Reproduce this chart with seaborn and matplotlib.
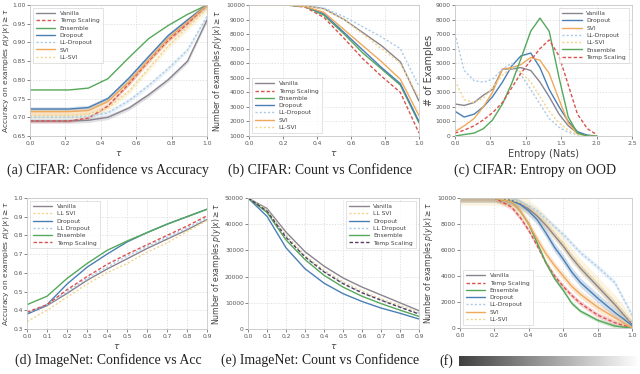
import numpy as np
import matplotlib
matplotlib.use("Agg")
import matplotlib.pyplot as plt
import seaborn as sns
import pandas as pd

# ---------------- data ----------------
# (a) CIFAR accuracy vs confidence threshold
tau_cifar = [0.0, 0.11, 0.22, 0.33, 0.44, 0.56, 0.67, 0.78, 0.89, 1.0]
acc_cifar = {
    "Vanilla":      [0.690, 0.690, 0.690, 0.692, 0.700, 0.725, 0.760, 0.800, 0.850, 0.960],
    "Temp Scaling": [0.690, 0.690, 0.690, 0.698, 0.730, 0.790, 0.850, 0.905, 0.950, 1.000],
    "Ensemble":     [0.773, 0.773, 0.773, 0.778, 0.803, 0.860, 0.910, 0.945, 0.975, 1.000],
    "Dropout":      [0.722, 0.722, 0.722, 0.726, 0.750, 0.805, 0.862, 0.918, 0.960, 1.000],
    "LL-Dropout":   [0.700, 0.700, 0.700, 0.702, 0.712, 0.745, 0.785, 0.830, 0.880, 0.970],
    "SVI":          [0.715, 0.715, 0.715, 0.718, 0.742, 0.795, 0.853, 0.910, 0.955, 1.000],
    "LL-SVI":       [0.705, 0.705, 0.705, 0.708, 0.725, 0.770, 0.830, 0.890, 0.940, 0.990],
}
acc_cifar_std = {"Vanilla": 0.006, "Temp Scaling": 0.004, "Dropout": 0.006,
                 "LL-Dropout": 0.006, "SVI": 0.01, "LL-SVI": 0.008}

# (b) CIFAR count vs confidence
count_cifar = {
    "Vanilla":      [10000, 10000, 10000, 9950, 9750, 9000, 8100, 7200, 6100, 3400],
    "Temp Scaling": [10000, 10000, 10000, 9850, 9150, 7700, 6300, 5100, 4000, 1200],
    "Ensemble":     [10000, 10000, 10000, 9900, 9300, 8000, 6700, 5600, 4500, 1900],
    "Dropout":      [10000, 10000, 10000, 9900, 9400, 8100, 6900, 5700, 4600, 2000],
    "LL-Dropout":   [10000, 10000, 10000, 9950, 9800, 9200, 8500, 7800, 7000, 4400],
    "SVI":          [10000, 10000, 10000, 9900, 9500, 8300, 7200, 6100, 4900, 2400],
    "LL-SVI":       [10000, 10000, 10000, 9950, 9700, 9000, 8000, 7000, 6000, 3600],
}

# (c) CIFAR entropy histogram on OOD
entropy_bins = [0.0, 0.13, 0.27, 0.4, 0.53, 0.67, 0.8, 0.93, 1.07, 1.2, 1.33, 1.47, 1.6, 1.73, 1.87, 2.0]
entropy_counts = {
    "Vanilla":      [2200, 2100, 2300, 2800, 3200, 4600, 4600, 4700, 4500, 3700, 2700, 1500, 700, 200, 50, 0],
    "Dropout":      [1700, 1300, 1500, 2000, 2700, 3700, 4800, 5500, 5700, 4700, 3200, 2000, 1000, 300, 50, 0],
    "SVI":          [300, 700, 1200, 2000, 3000, 4600, 4700, 4900, 5400, 5200, 4300, 2500, 900, 150, 0, 0],
    "LL-Dropout":   [7000, 4500, 3800, 3700, 3900, 4600, 5000, 4200, 3200, 2200, 1200, 600, 250, 80, 0, 0],
    "LL-SVI":       [3800, 2500, 2300, 2600, 3300, 4200, 4700, 4400, 3700, 2700, 1700, 900, 400, 100, 0, 0],
    "Ensemble":     [0, 100, 200, 500, 1100, 2200, 3600, 5300, 7200, 8100, 7200, 4000, 1300, 200, 0, 0],
    "Temp Scaling": [200, 400, 700, 1100, 1600, 2300, 3300, 4300, 5200, 6000, 6600, 5500, 3500, 1500, 500, 100],
}

# (d) ImageNet accuracy vs confidence
tau_imnet = [0.0, 0.1, 0.2, 0.3, 0.4, 0.5, 0.6, 0.7, 0.8, 0.9]
acc_imnet = {
    "Vanilla":      [0.380, 0.425, 0.490, 0.560, 0.620, 0.675, 0.730, 0.780, 0.830, 0.885],
    "LL SVI":       [0.340, 0.400, 0.470, 0.540, 0.600, 0.650, 0.710, 0.760, 0.820, 0.880],
    "Dropout":      [0.380, 0.430, 0.540, 0.630, 0.700, 0.765, 0.815, 0.860, 0.900, 0.940],
    "LL Dropout":   [0.385, 0.430, 0.500, 0.570, 0.630, 0.690, 0.740, 0.790, 0.840, 0.895],
    "Ensemble":     [0.430, 0.475, 0.570, 0.650, 0.720, 0.770, 0.815, 0.860, 0.900, 0.940],
    "Temp Scaling": [0.390, 0.430, 0.510, 0.580, 0.645, 0.700, 0.750, 0.800, 0.850, 0.905],
}

# (e) ImageNet count vs confidence
count_imnet = {
    "Vanilla":      [50000, 46000, 37000, 29500, 24000, 19500, 16000, 13000, 10000, 7000],
    "LL SVI":       [50000, 45500, 36000, 28000, 22500, 18000, 14500, 11500, 9000, 6300],
    "Dropout":      [50000, 43000, 31000, 23000, 17500, 13500, 10500, 8000, 6000, 3800],
    "LL Dropout":   [50000, 45000, 35500, 27500, 22000, 17500, 14000, 11000, 8500, 6000],
    "Ensemble":     [50000, 44500, 34000, 26500, 20500, 16000, 12500, 9700, 7200, 4800],
    "Temp Scaling": [50000, 45000, 35000, 27500, 21800, 17300, 13800, 11000, 8300, 5700],
}

# (f) count vs confidence (shifted data)
tau_f = [0.0, 0.1, 0.2, 0.3, 0.35, 0.4, 0.45, 0.5, 0.55, 0.6, 0.65, 0.7, 0.8, 0.9, 1.0]
count_f = {
    "Vanilla":      [10000, 10000, 10000, 9800, 9550, 9150, 8600, 7900, 7100, 6300, 5400, 4600, 3200, 1800, 300],
    "Temp Scaling": [10000, 10000, 10000, 9300, 8500, 7500, 6300, 5000, 4000, 3200, 2500, 1900, 1000, 400, 0],
    "Ensemble":     [10000, 10000, 10000, 9700, 9000, 8000, 6500, 5000, 3800, 2900, 1900, 1300, 600, 150, 0],
    "Dropout":      [10000, 10000, 10000, 9800, 9500, 9000, 8300, 7300, 6200, 5300, 4300, 3500, 2300, 1200, 200],
    "LL-Dropout":   [10000, 10000, 10000, 9900, 9700, 9400, 9000, 8400, 7800, 7200, 6500, 5800, 4700, 3500, 1000],
    "SVI":          [10000, 10000, 10000, 9700, 9000, 8000, 6800, 5700, 4800, 4000, 3200, 2600, 1600, 800, 0],
    "LL-SVI":       [10000, 10000, 10000, 9850, 9650, 9300, 8800, 8100, 7300, 6500, 5600, 4800, 3400, 2000, 400],
}
count_f_std = {"Vanilla": 300, "Temp Scaling": 200, "Ensemble": 150, "Dropout": 350,
               "LL-Dropout": 200, "SVI": 300, "LL-SVI": 550}

# ---------------- styles ----------------
STYLE = {
    "Vanilla":      dict(color="#8a8490", ls="-"),
    "Temp Scaling": dict(color="#d9534f", ls=(0, (2.5, 1.5))),
    "Ensemble":     dict(color="#55a85a", ls="-"),
    "Dropout":      dict(color="#4a7fb5", ls="-"),
    "LL-Dropout":   dict(color="#a9cbe8", ls=(0, (1.5, 1.5))),
    "LL Dropout":   dict(color="#a9cbe8", ls=(0, (1.5, 1.5))),
    "SVI":          dict(color="#f0a85a", ls="-"),
    "LL-SVI":       dict(color="#f2d48a", ls=(0, (1.5, 1.5))),
    "LL SVI":       dict(color="#f2d48a", ls=(0, (1.5, 1.5))),
}

sns.set_style("whitegrid", {"grid.linestyle": (0, (2, 2)), "grid.color": "#d8d8d8",
                            "axes.edgecolor": "#c8c8c8", "xtick.bottom": True,
                            "ytick.left": True})
plt.rcParams["font.family"] = ["DejaVu Sans"]
plt.rcParams["xtick.color"] = "#555555"
plt.rcParams["ytick.color"] = "#555555"
plt.rcParams["xtick.major.size"] = 2
plt.rcParams["ytick.major.size"] = 2
plt.rcParams["xtick.major.width"] = 0.5
plt.rcParams["ytick.major.width"] = 0.5
plt.rcParams["xtick.major.pad"] = 1.5
plt.rcParams["ytick.major.pad"] = 1

W, H = 640, 374
fig = plt.figure(figsize=(6.4, 3.74), dpi=100)


def box(x0, y0, x1, y1):
    return [x0 / W, 1 - y1 / H, (x1 - x0) / W, (y1 - y0) / H]


def draw(ax, x, series, std=None, lw=1.0):
    for name, vals in series.items():
        df = pd.DataFrame({"x": x, "y": vals})
        st = STYLE.get(name, {})
        if name == "Temp Scaling" and ax.get_label() == "e":
            st = dict(color="#5a3d5c", ls=(0, (2.5, 1.5)))
        sns.lineplot(data=df, x="x", y="y", ax=ax, color=st["color"],
                     linestyle=st["ls"], lw=lw, label=name)
        if std and name in std:
            v = np.array(vals, dtype=float)
            ax.fill_between(x, v - std[name], v + std[name], color=st["color"],
                            alpha=0.25, lw=0)


def finish(ax, xlabel, ylabel, loc, lab_fs=5.6):
    ax.set_xlabel(xlabel, fontsize=6.5, color="#444444", labelpad=2)
    ax.set_ylabel(ylabel, fontsize=lab_fs, color="#444444", labelpad=1.5)
    ax.tick_params(labelsize=4.3)
    for s in ax.spines.values():
        s.set_linewidth(0.6)
    ax.grid(True, lw=0.5)
    leg = ax.legend(loc=loc, fontsize=4.3, frameon=True, handlelength=3.2,
                    borderpad=0.5, labelspacing=0.35, fancybox=False)
    leg.get_frame().set_edgecolor("#cccccc")
    leg.get_frame().set_linewidth(0.5)
    for t in leg.get_texts():
        t.set_color("#444444")


ylab_acc = r"Accuracy on examples $p(y|x) \geq \tau$"
ylab_num = r"Number of examples $p(y|x) \geq \tau$"

# (a)
ax = fig.add_axes(box(30, 5, 207, 136), label="a")
draw(ax, tau_cifar, acc_cifar, acc_cifar_std)
ax.set_xlim(0, 1)
ax.set_ylim(0.65, 1.0)
ax.set_xticks([0, 0.2, 0.4, 0.6, 0.8, 1.0])
ax.set_yticks([0.65, 0.70, 0.75, 0.80, 0.85, 0.90, 0.95, 1.00])
finish(ax, r"$\tau$", ylab_acc, "upper left", lab_fs=5.4)
ax.yaxis.set_label_coords(-0.103, 0.5)

# (b)
ax = fig.add_axes(box(249, 5, 419, 136), label="b")
draw(ax, tau_cifar, count_cifar)
ax.set_xlim(0, 1)
ax.set_ylim(1000, 10000)
ax.set_xticks([0, 0.2, 0.4, 0.6, 0.8, 1.0])
ax.set_yticks(range(1000, 10001, 1000))
finish(ax, r"$\tau$", ylab_num, "lower left")

# (c)
ax = fig.add_axes(box(455, 5, 632, 136), label="c")
draw(ax, entropy_bins, entropy_counts)
ax.set_xlim(0, 2.5)
ax.set_ylim(0, 9000)
ax.set_xticks([0, 0.5, 1.0, 1.5, 2.0, 2.5])
ax.set_yticks(range(0, 9001, 1000))
finish(ax, "Entropy (Nats)", "# of Examples", "upper right", lab_fs=7)
ax.xaxis.label.set_fontsize(7)

# (d)
ax = fig.add_axes(box(27, 198, 207, 329), label="d")
draw(ax, tau_imnet, acc_imnet)
ax.set_xlim(0, 0.9)
ax.set_ylim(0.3, 1.0)
ax.set_xticks(tau_imnet)
ax.set_yticks([0.3, 0.4, 0.5, 0.6, 0.7, 0.8, 0.9, 1.0])
finish(ax, r"$\tau$", ylab_acc, "upper left", lab_fs=5.4)
ax.yaxis.set_label_coords(-0.085, 0.5)

# (e)
ax = fig.add_axes(box(248, 198, 419, 329), label="e")
draw(ax, tau_imnet, count_imnet)
ax.set_xlim(0, 0.9)
ax.set_ylim(0, 50000)
ax.set_xticks(tau_imnet)
ax.set_yticks(range(0, 50001, 10000))
finish(ax, r"$\tau$", ylab_num, "upper right")

# (f)
ax = fig.add_axes(box(460, 198, 632, 328), label="f")
draw(ax, tau_f, count_f, count_f_std)
ax.set_xlim(0, 1)
ax.set_ylim(0, 10000)
ax.set_xticks([0, 0.2, 0.4, 0.6, 0.8, 1.0])
ax.set_yticks(range(0, 10001, 2000))
finish(ax, "", ylab_num, "lower left")

# captions
cap = dict(fontsize=10, family="Liberation Serif", ha="center", va="center", color="#222222")
fig.text(108 / W, 1 - 170 / H, "(a) CIFAR: Confidence vs Accuracy", **cap)
fig.text(320 / W, 1 - 170 / H, "(b) CIFAR: Count vs Confidence", **cap)
fig.text(535 / W, 1 - 170 / H, "(c) CIFAR: Entropy on OOD", **cap)
fig.text(108 / W, 1 - 360 / H, "(d) ImageNet: Confidence vs Acc", **cap)
fig.text(320 / W, 1 - 360 / H, "(e) ImageNet: Count vs Confidence", **cap)
fig.text(446 / W, 1 - 361 / H, "(f)", **cap)

# grey fade bar next to (f)
bar = fig.add_axes(box(459, 356, 640, 366))
bar.imshow(np.linspace(0.25, 1.0, 256)[None, :], cmap="gray", vmin=0, vmax=1,
           aspect="auto")
bar.axis("off")

fig.savefig("out.png", dpi=100)
